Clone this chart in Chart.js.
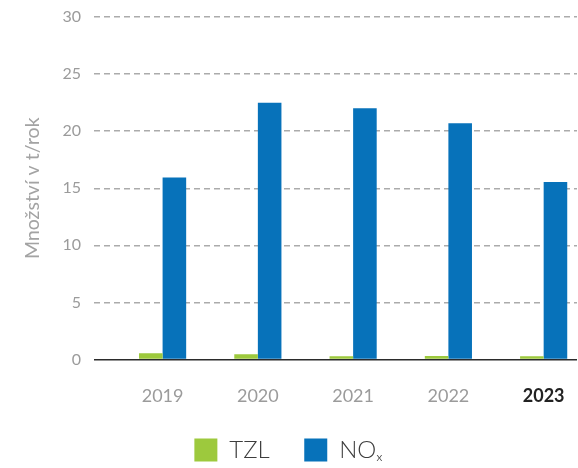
<!DOCTYPE html>
<html lang="cs">
<head>
<meta charset="utf-8">
<title>Množství v t/rok</title>
<script src="https://cdn.jsdelivr.net/npm/chart.js@4"></script>
<style>
  html, body { margin: 0; padding: 0; background: #fff; overflow: hidden; }
  #chart { display: block; }
</style>
</head>
<body>
<canvas id="chart" width="578" height="468"></canvas>
<script>
// roky a hodnoty
const years = [2019, 2020, 2021, 2022, 2023];
const tzl = [0.55, 0.46, 0.28, 0.31, 0.28];
const nox = [15.95, 22.5, 22.0, 20.7, 15.55];
const yTicks = [0, 5, 10, 15, 20, 25, 30];

const gray = "#9b9b9b";
Chart.defaults.font.family = "Lato, 'DejaVu Sans', sans-serif";

function points(values) {
  return years.map((y, i) => ({ x: y, y: values[i] }));
}

const ctx = document.getElementById("chart").getContext("2d");
new Chart(ctx, {
  type: "bar",
  data: {
    datasets: [
      {
        label: "TZL",
        data: points(tzl),
        backgroundColor: "#9dc93d",
        borderWidth: 0,
        categoryPercentage: 0.495,
        barPercentage: 1,
      },
      {
        label: "NOₓ",
        data: points(nox),
        backgroundColor: "#0772ba",
        borderWidth: 0,
        categoryPercentage: 0.495,
        barPercentage: 1,
      },
    ],
  },
  options: {
    responsive: false,
    animation: false,
    layout: { padding: { top: 17, right: 1, left: 0, bottom: 0 } },
    plugins: {
      tooltip: { enabled: false },
      legend: {
        position: "bottom",
        maxHeight: 64.5,
        labels: {
          boxWidth: 23,
          boxHeight: 23,
          padding: 34.5,
          color: "#3d3d3d",
          font: { size: 24, weight: 300 },
        },
      },
    },
    scales: {
      x: {
        type: "linear",
        offset: false,
        min: years[0] - 0.72,
        max: years[years.length - 1] + 0.35,
        afterBuildTicks: (scale) => {
          scale.ticks = years.map((v) => ({ value: v }));
        },
        afterFit: (scale) => {
          scale.height = 44;
          scale.paddingLeft = 0;
          scale.paddingRight = 0;
        },
        grid: { display: false, drawTicks: false },
        border: { display: false },
        ticks: {
          padding: 26,
          maxRotation: 0,
          callback: (v) => String(v),
          color: (c) => (c.tick && c.tick.value === 2023 ? "#222" : gray),
          font: (c) => ({
            size: 18,
            weight: c.tick && c.tick.value === 2023 ? "bold" : "normal",
          }),
        },
      },
      y: {
        min: 0,
        max: 30,
        afterBuildTicks: (scale) => {
          scale.ticks = yTicks.map((v) => ({ value: v }));
        },
        afterFit: (scale) => {
          scale.width = 94;
          scale.paddingTop = 0;
          scale.paddingBottom = 0;
        },
        grid: {
          drawTicks: false,
          color: (c) => (c.tick && c.tick.value === 0 ? "#2b2b2b" : "#ababab"),
          lineWidth: (c) => (c.tick && c.tick.value === 0 ? 1.6 : 1.5),
        },
        border: {
          display: false,
          dash: (c) => (c.tick && c.tick.value === 0 ? [] : [6, 4]),
        },
        ticks: {
          padding: 13,
          color: gray,
          font: { size: 16 },
        },
        title: {
          display: true,
          text: "Množství v t/rok",
          color: "#a3a3a3",
          font: { size: 19.5 },
          padding: { top: 21, bottom: 0 },
        },
      },
    },
  },
});
</script>
</body>
</html>
